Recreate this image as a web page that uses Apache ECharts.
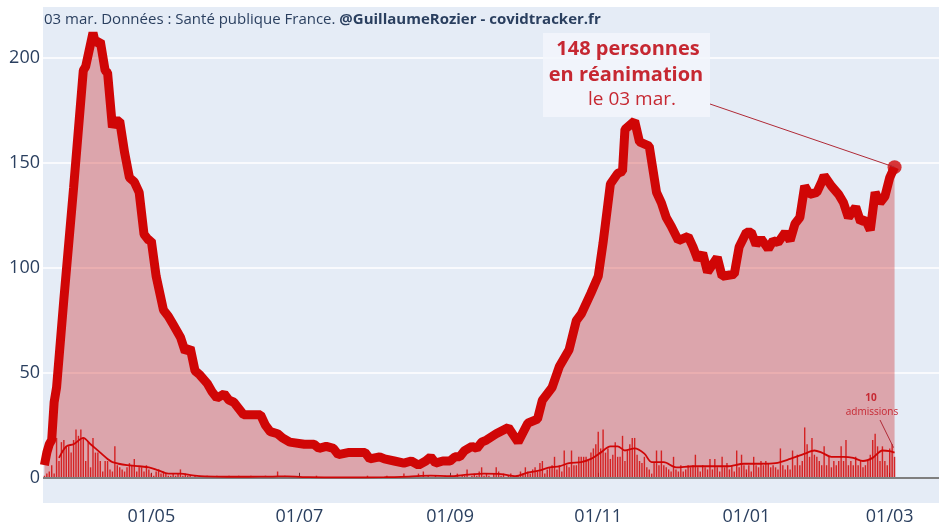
<!DOCTYPE html>
<html>
<head>
<meta charset="utf-8">
<script src="https://cdn.jsdelivr.net/npm/echarts@6/dist/echarts.min.js"></script>
<style>
  html, body { margin: 0; padding: 0; background: #fff; }
  #chart { width: 939px; height: 527px; }
</style>
</head>
<body>
<div id="chart"></div>
<script>
// patients en réanimation
const reaDates = [
  '2020-03-18','2020-03-19','2020-03-20','2020-03-21','2020-03-22','2020-03-23','2020-03-26','2020-03-30',
  '2020-04-03','2020-04-04','2020-04-07','2020-04-08','2020-04-10','2020-04-12','2020-04-13','2020-04-15',
  '2020-04-16','2020-04-18','2020-04-20','2020-04-22','2020-04-24','2020-04-26','2020-04-28','2020-04-30',
  '2020-05-01','2020-05-03','2020-05-06','2020-05-08','2020-05-10','2020-05-13','2020-05-15','2020-05-17',
  '2020-05-19','2020-05-21','2020-05-24','2020-05-26','2020-05-28','2020-05-31','2020-06-02','2020-06-04',
  '2020-06-06','2020-06-08','2020-06-15','2020-06-17','2020-06-19','2020-06-22','2020-06-24','2020-06-27',
  '2020-07-03','2020-07-07','2020-07-09','2020-07-12','2020-07-15','2020-07-17','2020-07-21','2020-07-28',
  '2020-07-30','2020-08-03','2020-08-05','2020-08-09','2020-08-13','2020-08-16','2020-08-19','2020-08-22',
  '2020-08-24','2020-08-26','2020-08-29','2020-09-01','2020-09-03','2020-09-05','2020-09-07','2020-09-10',
  '2020-09-12','2020-09-14','2020-09-16','2020-09-20','2020-09-25','2020-09-29','2020-10-03','2020-10-07',
  '2020-10-09','2020-10-13','2020-10-16','2020-10-20','2020-10-23','2020-10-25','2020-10-29','2020-11-01',
  '2020-11-03','2020-11-06','2020-11-09','2020-11-11','2020-11-12','2020-11-16','2020-11-18','2020-11-22',
  '2020-11-25','2020-11-27','2020-11-29','2020-12-01','2020-12-04','2020-12-08','2020-12-10','2020-12-12',
  '2020-12-14','2020-12-16','2020-12-20','2020-12-22','2020-12-27','2020-12-29','2021-01-01','2021-01-03',
  '2021-01-05','2021-01-07','2021-01-10','2021-01-12','2021-01-14','2021-01-17','2021-01-19','2021-01-21',
  '2021-01-23','2021-01-25','2021-01-27','2021-01-30','2021-02-01','2021-02-02','2021-02-05','2021-02-08',
  '2021-02-10','2021-02-12','2021-02-15','2021-02-17','2021-02-19','2021-02-21','2021-02-23','2021-02-25',
  '2021-02-27','2021-03-01','2021-03-03'
];
const reaValues = [
  6, 12, 16, 18, 36, 43, 85, 138,
  194, 196, 212, 207, 208, 194, 193, 167,
  170, 170, 155, 143, 141, 136, 116, 113,
  113, 96, 80, 77, 73, 67, 60, 62,
  51, 49, 45, 41, 38, 40, 37, 36,
  33, 30, 30, 25, 22, 21, 19, 17,
  16, 16, 14, 15, 14, 11, 12, 12,
  9, 10, 9, 8, 7, 8, 6, 8,
  10, 7, 8, 8, 10, 10, 13, 15,
  14, 17, 18, 21, 24, 17, 26, 28,
  37, 43, 53, 61, 75, 78, 88, 96,
  112, 140, 145, 146, 166, 170, 160, 158,
  136, 131, 124, 120, 113, 115, 110, 104,
  107, 98, 105, 96, 97, 110, 117, 117,
  111, 114, 109, 113, 112, 117, 113, 121,
  124, 139, 135, 136, 141, 144, 139, 135,
  131, 124, 129, 122, 123, 118, 136, 131,
  134, 143, 148
];

// admissions quotidiennes, à partir du 18 mars 2020
const admMar20 = [1, 2, 3, 6, 2, 19, 8, 17, 18, 15, 15, 12, 18, 23];
const admApr20 = [20, 23, 19, 8, 17, 5, 19, 12, 12, 8, 3, 8, 8, 4, 3, 15, 6, 5, 4, 3, 5, 7, 6, 9, 3, 5, 5, 3, 6, 4];
const admMay20 = [2, 1, 3, 4, 2, 3, 2, 1, 1, 2, 1, 2, 4, 1, 2, 1, 1, 0, 1, 0, 1, 0, 0, 1, 0, 0, 0, 1, 0, 0, 0];
const admJun20 = [0, 1, 0, 0, 0, 1, 0, 0, 0, 0, 1, 0, 0, 0, 0, 0, 1, 0, 0, 0, 0, 3, 0, 0, 1, 0, 0, 0, 0, 0];
const admJul20 = [0, 0, 0, 0, 0, 0, 0, 1, 0, 0, 0, 0, 0, 0, 0, 0, 0, 0, 0, 0, 0, 0, 0, 0, 0, 0, 0, 0, 1, 0, 0];
const admAug20 = [0, 0, 0, 0, 0, 1, 0, 0, 0, 0, 0, 0, 2, 0, 0, 0, 0, 0, 2, 0, 3, 0, 1, 0, 0, 1, 0, 0, 0, 1, 0];
const admSep20 = [1, 0, 1, 2, 0, 1, 1, 4, 0, 1, 2, 1, 3, 5, 1, 2, 1, 0, 2, 5, 3, 1, 2, 0, 1, 2, 1, 0, 1, 3];
const admOct20 = [2, 5, 3, 2, 4, 5, 3, 7, 8, 2, 4, 5, 6, 10, 4, 6, 3, 13, 6, 5, 13, 6, 6, 10, 10, 10, 10, 8, 12, 14, 16];
const admNov20 = [22, 14, 23, 12, 14, 9, 11, 17, 10, 10, 20, 8, 13, 16, 19, 19, 11, 8, 7, 10, 5, 4, 2, 7, 13, 6, 13, 6, 5, 4];
const admDec20 = [3, 10, 4, 3, 6, 3, 4, 6, 5, 6, 11, 5, 3, 6, 5, 4, 9, 4, 9, 5, 3, 10, 5, 7, 4, 6, 3, 13, 5, 11, 6];
const admJan21 = [4, 6, 3, 10, 6, 5, 8, 6, 8, 7, 5, 6, 5, 4, 14, 6, 4, 6, 4, 13, 6, 11, 6, 8, 24, 16, 10, 19, 11, 10, 8];
const admFeb21 = [6, 15, 6, 10, 5, 8, 6, 8, 15, 8, 18, 6, 8, 6, 10, 6, 8, 5, 6, 8, 11, 18, 21, 15, 8, 15, 8, 6];
const admMar21 = [14, 16, 10];

const avgDates = [
  '2020-03-24','2020-03-27','2020-03-30','2020-04-03','2020-04-06','2020-04-10','2020-04-13','2020-04-15',
  '2020-04-21','2020-04-26','2020-04-30','2020-05-04','2020-05-08','2020-05-13','2020-05-18','2020-05-23',
  '2020-06-01','2020-06-10','2020-06-20','2020-06-26','2020-07-05','2020-07-20','2020-08-05','2020-08-15',
  '2020-08-24','2020-09-01','2020-09-08','2020-09-15','2020-09-22','2020-09-28','2020-10-03','2020-10-08',
  '2020-10-12','2020-10-16','2020-10-20','2020-10-25','2020-10-29','2020-11-02','2020-11-06','2020-11-09',
  '2020-11-12','2020-11-16','2020-11-20','2020-11-23','2020-11-28','2020-12-03','2020-12-10','2020-12-17',
  '2020-12-24','2020-12-31','2021-01-07','2021-01-13','2021-01-19','2021-01-25','2021-01-29','2021-02-01',
  '2021-02-05','2021-02-10','2021-02-14','2021-02-18','2021-02-22','2021-02-26','2021-03-01','2021-03-03'
];
const avgValues = [
  9.5, 15, 16, 19, 16, 12, 9, 7.5,
  6, 5.5, 5, 3.5, 2, 2, 1.2, 0.7,
  0.5, 0.5, 0.6, 0.7, 0.3, 0.2, 0.3, 0.6,
  1, 0.8, 1.5, 2, 1.8, 0.8, 2.5, 3.5,
  5, 5.5, 7, 7.5, 9, 12, 15, 15,
  13, 14, 11.5, 7.5, 7.5, 5, 5.5, 5.5,
  5.5, 6.7, 6.7, 7, 9, 11.5, 13, 12,
  10, 10, 9.5, 8, 9.5, 13, 12.7, 12
];

const tickDates = ['2020-05-01', '2020-07-01', '2020-09-01', '2020-11-01', '2021-01-01', '2021-03-01'];
const yTicks = [0, 50, 100, 150, 200];

function ts(d) { return echarts.time.parse(d).getTime(); }

const admValues = [].concat(admMar20, admApr20, admMay20, admJun20, admJul20, admAug20,
  admSep20, admOct20, admNov20, admDec20, admJan21, admFeb21, admMar21);
const admData = admValues.map(function (v, i) {
  return [new Date(2020, 2, 18 + i).getTime(), v];
});
const reaData = reaDates.map(function (d, i) { return [ts(d), reaValues[i]]; });
const avgData = avgDates.map(function (d, i) { return [ts(d), avgValues[i]]; });
const tickTs = tickDates.map(ts);

const RED = '#d00606';
const TXT = '#2a3f5f';
const FONT = 'Open Sans';

function pad(n) { return (n < 10 ? '0' : '') + n; }

const chart = echarts.init(document.getElementById('chart'));
chart.setOption({
  animation: false,
  backgroundColor: '#fff',
  textStyle: { fontFamily: FONT },
  title: {
    left: 44, top: 12, padding: 0,
    text: '{n|03 mar. Données : Santé publique France. }{b|@GuillaumeRozier - covidtracker.fr}',
    textStyle: {
      fontWeight: 'normal',
      rich: {
        n: { fontFamily: FONT, fontSize: 15, color: TXT, fontWeight: 'normal' },
        b: { fontFamily: FONT, fontSize: 15, color: TXT, fontWeight: 'bold' }
      }
    }
  },
  grid: {
    left: 43, right: 0, top: 7, bottom: 24,
    show: true, backgroundColor: '#e5ecf6', borderWidth: 0
  },
  xAxis: {
    type: 'value',
    min: new Date(2020, 2, 17, 10).getTime(),
    max: new Date(2021, 2, 21, 7).getTime(),
    axisLine: { show: false },
    axisTick: { show: true, inside: true, length: 5, lineStyle: { color: '#444' }, customValues: tickTs },
    axisLabel: {
      customValues: tickTs, fontSize: 18, color: TXT, fontFamily: FONT, margin: 5,
      formatter: function (v) {
        const d = new Date(v);
        return pad(d.getDate()) + '/' + pad(d.getMonth() + 1);
      }
    },
    splitLine: { show: false }
  },
  yAxis: {
    type: 'value', min: -12, max: 224.3,
    axisLine: { show: false },
    axisTick: { show: false, customValues: yTicks },
    axisLabel: { customValues: yTicks, fontSize: 18, color: TXT, fontFamily: FONT, margin: 3 },
    splitLine: { show: true, lineStyle: { color: '#fff', width: 1.5 } }
  },
  series: [
    {
      name: 'réanimation', type: 'line', data: reaData, showSymbol: false, z: 3,
      lineStyle: { color: RED, width: 9 },
      itemStyle: { color: RED },
      areaStyle: { color: 'rgba(200,0,0,0.3)', opacity: 1 },
      markLine: {
        silent: true, symbol: 'none', label: { show: false },
        lineStyle: { color: '#7f7f7f', width: 2, type: 'solid' },
        data: [{ yAxis: 0 }]
      }
    },
    {
      name: 'admissions', type: 'bar', data: admData, barWidth: 1.4, z: 4,
      itemStyle: { color: 'rgba(210,10,10,0.85)' }
    },
    {
      name: 'moyenne', type: 'line', data: avgData, showSymbol: false, smooth: 0.3, z: 5,
      lineStyle: { color: RED, width: 1.8 }
    },
    {
      name: 'dernier', type: 'scatter', z: 6,
      data: [reaData[reaData.length - 1]],
      symbolSize: 14, itemStyle: { color: RED }
    }
  ]
});

// annotations
const lastRea = chart.convertToPixel({ gridIndex: 0 }, reaData[reaData.length - 1]);
const lastAvg = chart.convertToPixel({ gridIndex: 0 }, avgData[avgData.length - 1]);
const lbl = '#c62832';
chart.setOption({
  graphic: [
    { type: 'rect', shape: { x: 543, y: 33, width: 167, height: 84 }, style: { fill: 'rgba(243,246,251,0.85)' }, z: 10 },
    { type: 'line', shape: { x1: 710, y1: 104, x2: lastRea[0], y2: lastRea[1] }, style: { stroke: '#b02a36', lineWidth: 1 }, z: 10 },
    { type: 'text', x: 628, y: 49, z: 11, style: { text: '148 personnes', fill: lbl, font: 'bold 20px "Open Sans"', align: 'center', verticalAlign: 'middle' } },
    { type: 'text', x: 626, y: 75, z: 11, style: { text: 'en réanimation', fill: lbl, font: 'bold 20px "Open Sans"', align: 'center', verticalAlign: 'middle' } },
    { type: 'text', x: 632, y: 100, z: 11, style: { text: 'le 03 mar.', fill: lbl, font: '19px "Open Sans"', align: 'center', verticalAlign: 'middle' } },
    { type: 'text', x: 871, y: 398, z: 11, style: { text: '10', fill: lbl, font: 'bold 10px "Open Sans"', align: 'center', verticalAlign: 'middle' } },
    { type: 'text', x: 872, y: 412, z: 11, style: { text: 'admissions', fill: lbl, font: '10px "Open Sans"', align: 'center', verticalAlign: 'middle' } },
    { type: 'line', shape: { x1: 880, y1: 420, x2: lastAvg[0] - 1, y2: lastAvg[1] - 5 }, style: { stroke: '#b02a36', lineWidth: 1 }, z: 11 }
  ]
});
</script>
</body>
</html>
